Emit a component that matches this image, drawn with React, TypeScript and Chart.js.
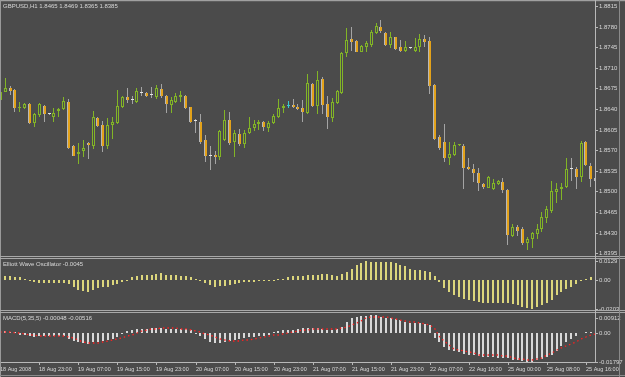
import React, { useEffect, useRef } from 'react';
import { Chart, registerables, LinearScale } from 'chart.js';

Chart.register(...registerables);

// Scales that snap pixel positions so 1px wicks / 3px bodies stay crisp (MT4 look)
class SnapHalfScale extends LinearScale {
  static id = 'snapHalf';
  static defaults = {};
  getPixelForValue(value: number) {
    return Math.round(super.getPixelForValue(value) - 0.5) + 0.5;
  }
  getLineWidthForValue() {
    return 0;
  }
}
class SnapIntScale extends LinearScale {
  static id = 'snapInt';
  static defaults = {};
  getPixelForValue(value: number) {
    return Math.round(super.getPixelForValue(value));
  }
  getLineWidthForValue() {
    return 0;
  }
}
Chart.register(SnapHalfScale as any, SnapIntScale as any);

// ---------------- DATA (GBPUSD H1, 18 Aug 2008 15:00 -> 25 Aug 2008) ----------------
const OPEN = [
  1.8655, 1.8669, 1.8676, 1.8672, 1.8642, 1.8642, 1.8649, 1.8616, 1.8630, 1.8645,
  1.8632, 1.8626, 1.8637, 1.8640, 1.8652, 1.8577, 1.8564, 1.8569, 1.8582, 1.8577,
  1.8625, 1.8613, 1.8577, 1.8613, 1.8616, 1.8643, 1.8660, 1.8655, 1.8652, 1.8667,
  1.8667, 1.8664, 1.8660, 1.8674, 1.8662, 1.8647, 1.8652, 1.8660, 1.8662, 1.8643,
  1.8620, 1.8618, 1.8587, 1.8560, 1.8562, 1.8558, 1.8587, 1.8621, 1.8584, 1.8598,
  1.8581, 1.8599, 1.8608, 1.8615, 1.8618, 1.8608, 1.8616, 1.8626, 1.8642, 1.8645,
  1.8647, 1.8643, 1.8642, 1.8633, 1.8683, 1.8645, 1.8691, 1.8649, 1.8625, 1.8650,
  1.8667, 1.8735, 1.8759, 1.8756, 1.8737, 1.8745, 1.8749, 1.8769, 1.8779, 1.8769,
  1.8749, 1.8762, 1.8745, 1.8739, 1.8744, 1.8739, 1.8745, 1.8759, 1.8756, 1.8681,
  1.8592, 1.8584, 1.8557, 1.8562, 1.8578, 1.8577, 1.8542, 1.8538, 1.8531, 1.8513,
  1.8506, 1.8504, 1.8513, 1.8516, 1.8502, 1.8424, 1.8440, 1.8436, 1.8412, 1.8419,
  1.8428, 1.8436, 1.8455, 1.8467, 1.8499, 1.8504, 1.8508, 1.8538, 1.8538, 1.8525,
  1.8584, 1.8543, 1.8523,
];
const HIGH = [
  1.8672, 1.8693, 1.8679, 1.8674, 1.8652, 1.8650, 1.8650, 1.8633, 1.8650, 1.8647,
  1.8633, 1.8642, 1.8641, 1.8660, 1.8657, 1.8579, 1.8582, 1.8587, 1.8584, 1.8637,
  1.8626, 1.8620, 1.8625, 1.8626, 1.8672, 1.8662, 1.8676, 1.8662, 1.8676, 1.8677,
  1.8668, 1.8677, 1.8681, 1.8683, 1.8663, 1.8660, 1.8667, 1.8671, 1.8664, 1.8644,
  1.8623, 1.8632, 1.8596, 1.8577, 1.8569, 1.8604, 1.8638, 1.8635, 1.8604, 1.8606,
  1.8604, 1.8626, 1.8621, 1.8621, 1.8620, 1.8620, 1.8632, 1.8657, 1.8649, 1.8654,
  1.8657, 1.8649, 1.8655, 1.8700, 1.8684, 1.8705, 1.8694, 1.8662, 1.8659, 1.8672,
  1.8737, 1.8778, 1.8779, 1.8757, 1.8748, 1.8756, 1.8774, 1.8786, 1.8791, 1.8771,
  1.8771, 1.8763, 1.8757, 1.8756, 1.8745, 1.8761, 1.8767, 1.8766, 1.8762, 1.8682,
  1.8596, 1.8615, 1.8584, 1.8584, 1.8580, 1.8581, 1.8557, 1.8547, 1.8540, 1.8514,
  1.8526, 1.8521, 1.8519, 1.8523, 1.8504, 1.8445, 1.8443, 1.8440, 1.8423, 1.8431,
  1.8445, 1.8465, 1.8475, 1.8518, 1.8514, 1.8514, 1.8557, 1.8557, 1.8542, 1.8586,
  1.8586, 1.8548, 1.8525,
];
const LOW = [
  1.8654, 1.8668, 1.8664, 1.8635, 1.8635, 1.8640, 1.8615, 1.8609, 1.8626, 1.8618,
  1.8630, 1.8618, 1.8626, 1.8638, 1.8572, 1.8560, 1.8547, 1.8558, 1.8555, 1.8572,
  1.8609, 1.8567, 1.8572, 1.8589, 1.8615, 1.8642, 1.8650, 1.8649, 1.8651, 1.8662,
  1.8661, 1.8659, 1.8657, 1.8659, 1.8633, 1.8633, 1.8650, 1.8652, 1.8640, 1.8616,
  1.8599, 1.8581, 1.8550, 1.8536, 1.8547, 1.8553, 1.8586, 1.8579, 1.8558, 1.8577,
  1.8574, 1.8598, 1.8603, 1.8604, 1.8603, 1.8601, 1.8615, 1.8625, 1.8633, 1.8642,
  1.8642, 1.8638, 1.8618, 1.8632, 1.8643, 1.8632, 1.8632, 1.8606, 1.8618, 1.8649,
  1.8666, 1.8728, 1.8739, 1.8736, 1.8736, 1.8737, 1.8745, 1.8767, 1.8769, 1.8747,
  1.8744, 1.8740, 1.8737, 1.8737, 1.8742, 1.8737, 1.8737, 1.8745, 1.8666, 1.8587,
  1.8570, 1.8550, 1.8545, 1.8560, 1.8577, 1.8504, 1.8536, 1.8516, 1.8501, 1.8504,
  1.8505, 1.8502, 1.8511, 1.8497, 1.8409, 1.8423, 1.8424, 1.8409, 1.8400, 1.8404,
  1.8419, 1.8431, 1.8446, 1.8463, 1.8480, 1.8485, 1.8506, 1.8518, 1.8504, 1.8516,
  1.8543, 1.8508, 1.8515,
];
const CLOSE = [
  1.8669, 1.8676, 1.8671, 1.8642, 1.8643, 1.8649, 1.8616, 1.8632, 1.8649, 1.8632,
  1.8632, 1.8633, 1.8640, 1.8654, 1.8574, 1.8560, 1.8567, 1.8574, 1.8579, 1.8626,
  1.8611, 1.8577, 1.8613, 1.8618, 1.8645, 1.8660, 1.8655, 1.8655, 1.8671, 1.8667,
  1.8662, 1.8664, 1.8676, 1.8662, 1.8649, 1.8655, 1.8662, 1.8664, 1.8642, 1.8618,
  1.8620, 1.8584, 1.8560, 1.8560, 1.8558, 1.8603, 1.8621, 1.8582, 1.8599, 1.8581,
  1.8599, 1.8608, 1.8615, 1.8618, 1.8609, 1.8616, 1.8628, 1.8642, 1.8645, 1.8645,
  1.8643, 1.8640, 1.8635, 1.8684, 1.8645, 1.8689, 1.8647, 1.8626, 1.8652, 1.8671,
  1.8735, 1.8757, 1.8754, 1.8737, 1.8747, 1.8752, 1.8771, 1.8781, 1.8773, 1.8749,
  1.8762, 1.8742, 1.8739, 1.8745, 1.8744, 1.8745, 1.8759, 1.8754, 1.8679, 1.8589,
  1.8574, 1.8557, 1.8564, 1.8579, 1.8579, 1.8540, 1.8538, 1.8531, 1.8514, 1.8507,
  1.8525, 1.8514, 1.8518, 1.8502, 1.8426, 1.8440, 1.8433, 1.8412, 1.8419, 1.8429,
  1.8436, 1.8457, 1.8470, 1.8501, 1.8504, 1.8508, 1.8538, 1.8538, 1.8525, 1.8582,
  1.8545, 1.8521, 1.8518,
];
const HIGHLIGHT_BARS = [59];

const EWO = [
  0.0028, 0.0028, 0.0028, 0.0021, 0.0016, 0.0005, -0.0007, -0.0018, -0.0023, -0.0023,
  -0.0023, -0.0023, -0.0023, -0.0025, -0.0030, -0.0053, -0.0069, -0.0076, -0.0083, -0.0069,
  -0.0060, -0.0053, -0.0048, -0.0037, -0.0030, -0.0018, -0.0007, 0.0016, 0.0023, 0.0030,
  0.0035, 0.0035, 0.0039, 0.0044, 0.0035, 0.0035, 0.0030, 0.0028, 0.0025, 0.0016,
  0.0005, -0.0007, -0.0023, -0.0037, -0.0048, -0.0046, -0.0042, -0.0037, -0.0030, -0.0023,
  -0.0018, -0.0018, -0.0014, -0.0012, -0.0012, -0.0012, -0.0007, 0.0002, 0.0005, 0.0016,
  0.0023, 0.0025, 0.0028, 0.0030, 0.0030, 0.0032, 0.0037, 0.0037, 0.0032, 0.0025,
  0.0037, 0.0050, 0.0075, 0.0099, 0.0117, 0.0129, 0.0124, 0.0119, 0.0119, 0.0119,
  0.0119, 0.0112, 0.0099, 0.0092, 0.0075, 0.0067, 0.0067, 0.0062, 0.0055, 0.0025,
  -0.0017, -0.0055, -0.0087, -0.0109, -0.0120, -0.0131, -0.0138, -0.0146, -0.0153, -0.0159,
  -0.0159, -0.0159, -0.0159, -0.0164, -0.0164, -0.0168, -0.0175, -0.0186, -0.0197, -0.0203,
  -0.0190, -0.0175, -0.0159, -0.0138, -0.0109, -0.0087, -0.0066, -0.0050, -0.0028, -0.0011,
  0.0007, 0.0017, 0.0025,
];

const MACD_MAIN = [
  0.0010, 0.0010, 0.0006, 0.0004, -0.0016, -0.0016, -0.0024, -0.0030, -0.0024, -0.0024,
  -0.0024, -0.0024, -0.0024, -0.0024, -0.0040, -0.0051, -0.0061, -0.0067, -0.0071, -0.0061,
  -0.0055, -0.0051, -0.0044, -0.0040, -0.0030, -0.0010, 0.0010, 0.0016, 0.0020, 0.0024,
  0.0024, 0.0026, 0.0030, 0.0030, 0.0024, 0.0024, 0.0024, 0.0020, 0.0020, 0.0014,
  -0.0006, -0.0024, -0.0040, -0.0061, -0.0067, -0.0065, -0.0057, -0.0051, -0.0044, -0.0040,
  -0.0036, -0.0030, -0.0026, -0.0024, -0.0020, -0.0016, 0.0004, 0.0010, 0.0014, 0.0016,
  0.0016, 0.0020, 0.0030, 0.0026, 0.0026, 0.0026, 0.0020, 0.0016, 0.0016, 0.0020,
  0.0032, 0.0067, 0.0087, 0.0097, 0.0101, 0.0101, 0.0107, 0.0107, 0.0097, 0.0091,
  0.0087, 0.0081, 0.0077, 0.0067, 0.0061, 0.0061, 0.0057, 0.0053, 0.0046, -0.0034,
  -0.0061, -0.0089, -0.0105, -0.0115, -0.0121, -0.0129, -0.0135, -0.0141, -0.0145, -0.0150,
  -0.0150, -0.0150, -0.0156, -0.0156, -0.0156, -0.0166, -0.0170, -0.0176, -0.0180, -0.0178,
  -0.0170, -0.0162, -0.0150, -0.0135, -0.0115, -0.0085, -0.0061, -0.0040, -0.0020, -0.0004,
  0.0006, 0.0006, 0.0006,
];
const MACD_SIGNAL = [
  0.0004, 0.0003, 0.0002, 0.0000, -0.0004, -0.0008, -0.0012, -0.0016, -0.0020, -0.0022,
  -0.0024, -0.0024, -0.0024, -0.0024, -0.0028, -0.0034, -0.0044, -0.0055, -0.0062, -0.0063,
  -0.0062, -0.0059, -0.0054, -0.0048, -0.0042, -0.0034, -0.0024, -0.0012, 0.0000, 0.0008,
  0.0016, 0.0020, 0.0024, 0.0026, 0.0027, 0.0027, 0.0026, 0.0024, 0.0022, 0.0018,
  0.0012, 0.0004, -0.0006, -0.0018, -0.0030, -0.0040, -0.0048, -0.0052, -0.0053, -0.0051,
  -0.0048, -0.0043, -0.0038, -0.0033, -0.0028, -0.0024, -0.0018, -0.0012, -0.0006, 0.0000,
  0.0006, 0.0010, 0.0014, 0.0018, 0.0020, 0.0020, 0.0020, 0.0020, 0.0021, 0.0022,
  0.0026, 0.0036, 0.0048, 0.0060, 0.0074, 0.0087, 0.0093, 0.0097, 0.0097, 0.0093,
  0.0090, 0.0081, 0.0077, 0.0073, 0.0067, 0.0063, 0.0057, 0.0053, 0.0048, 0.0020,
  -0.0024, -0.0050, -0.0075, -0.0099, -0.0109, -0.0115, -0.0119, -0.0125, -0.0135, -0.0141,
  -0.0141, -0.0141, -0.0141, -0.0143, -0.0145, -0.0155, -0.0160, -0.0162, -0.0166, -0.0170,
  -0.0165, -0.0155, -0.0137, -0.0125, -0.0107, -0.0093, -0.0083, -0.0069, -0.0055, -0.0040,
  -0.0028, -0.0014, -0.0010,
];

const PRICE_TICKS = [1.8395, 1.843, 1.8465, 1.85, 1.8535, 1.857, 1.8605, 1.864, 1.8675, 1.871, 1.8745, 1.878, 1.8815];
const EWO_TICKS = [-0.0203, 0, 0.0129];
const EWO_TICK_LABELS = ['-0.0203', '0.00', '0.0129'];
const MACD_TICKS = [-0.01797, 0, 0.00912];
const MACD_TICK_LABELS = ['-0.01797', '0.00', '0.00912'];

const TIME_TICK_BARS = [0, 8, 16, 24, 32, 40, 48, 56, 64, 72, 80, 88, 96, 104, 112, 120];
const TIME_TICK_LABELS = [
  '18 Aug 2008', '18 Aug 23:00', '19 Aug 07:00', '19 Aug 15:00', '19 Aug 23:00',
  '20 Aug 07:00', '20 Aug 15:00', '20 Aug 23:00', '21 Aug 07:00', '21 Aug 15:00',
  '21 Aug 23:00', '22 Aug 07:00', '22 Aug 16:00', '25 Aug 00:00', '25 Aug 08:00', '25 Aug 16:00',
];

const MAIN_TITLE = 'GBPUSD,H1 1.8465 1.8469 1.8365 1.8385';
const EWO_TITLE = 'Elliott Wave Oscillator -0.0045';
const MACD_TITLE = 'MACD(5,35,5) -0.00048 -0.00516';

// ---------------- STYLE ----------------
const BG = '#4b4b4b';
const BULL = '#82b526';
const BEAR_FILL = '#e3a21a';
const BEAR_EDGE = '#b8b8b8';
const BEAR_WICK = '#a4a4a4';
const DOJI = '#e4e4e4';
const HILITE = '#38c8d0';
const EWO_COLOR = '#dcd67c';
const MACD_COLOR = '#d8d8d8';
const SIGNAL_COLOR = '#ff2020';
const AXIS = '#b8b8b8';
const TEXT = '#d8d8d8';
const FONT = '"Liberation Sans", Arial, sans-serif';

const X_MIN = 0.143;
const X_MAX = 121.865;

function rightAxis(min: number, max: number, ticks: number[], labels: (v: number, i: number) => string) {
  return {
    type: 'snapInt',
    position: 'right',
    min,
    max,
    offset: false,
    bounds: 'data',
    grace: 0,
    beginAtZero: false,
    afterBuildTicks: (s: any) => {
      s.ticks = ticks.map((v) => ({ value: v }));
    },
    afterFit: (s: any) => {
      s.width = 30;
      s.paddingTop = 0;
      s.paddingBottom = 0;
    },
    ticks: {
      autoSkip: false,
      color: TEXT,
      padding: 1,
      font: { family: FONT, size: 6 },
      callback: (v: any, i: number) => labels(Number(v), i),
    },
    grid: { display: true, offset: false, drawOnChartArea: false, drawTicks: true, tickLength: 3, color: AXIS, lineWidth: 1 },
    border: { display: true, color: AXIS, width: 1 },
  };
}

function xAxis(type: string, visible: boolean) {
  return {
    type,
    position: 'bottom',
    display: visible,
    min: X_MIN,
    max: X_MAX,
    offset: false,
    bounds: 'data',
    grace: 0,
    afterBuildTicks: (s: any) => {
      s.ticks = TIME_TICK_BARS.map((v) => ({ value: v }));
    },
    afterFit: (s: any) => {
      s.height = visible ? 15 : 0;
      s.paddingLeft = 0;
      s.paddingRight = 0;
    },
    ticks: {
      autoSkip: false,
      maxRotation: 0,
      minRotation: 0,
      align: 'start',
      padding: 1,
      color: TEXT,
      font: { family: FONT, size: 5.5 },
      callback: (_v: any, i: number) => TIME_TICK_LABELS[i],
    },
    grid: { display: true, offset: false, drawOnChartArea: false, drawTicks: true, tickLength: 3, color: AXIS },
    border: { display: true, color: AXIS, width: 1 },
  };
}

const common = {
  responsive: false,
  maintainAspectRatio: false,
  animation: false,
  devicePixelRatio: 1,
  events: [],
  plugins: { legend: { display: false }, tooltip: { enabled: false }, title: { display: false } },
};

export default function App() {
  const mainRef = useRef<HTMLCanvasElement>(null);
  const ewoRef = useRef<HTMLCanvasElement>(null);
  const macdRef = useRef<HTMLCanvasElement>(null);

  useEffect(() => {
    const charts: Chart[] = [];

    const kind = (i: number) => {
      if (HIGHLIGHT_BARS.includes(i)) return 'hi';
      if (CLOSE[i] > OPEN[i]) return 'bull';
      if (CLOSE[i] < OPEN[i]) return 'bear';
      return 'doji';
    };
    const wickColors = OPEN.map((_, i) => {
      const k = kind(i);
      return k === 'bull' ? BULL : k === 'hi' ? HILITE : BEAR_WICK;
    });
    const bodyFill = OPEN.map((_, i) => {
      const k = kind(i);
      return k === 'bull' ? BG : k === 'bear' ? BEAR_FILL : k === 'hi' ? HILITE : DOJI;
    });
    const bodyEdge = OPEN.map((_, i) => {
      const k = kind(i);
      return k === 'bull' ? BULL : k === 'bear' ? BEAR_EDGE : k === 'hi' ? HILITE : DOJI;
    });
    const bodyBorder = OPEN.map((_, i) =>
      kind(i) === 'bear' ? { left: 1, right: 0, top: 0, bottom: 0 } : 1
    );

    if (mainRef.current) {
      charts.push(
        new Chart(mainRef.current, {
          type: 'bar',
          data: {
            datasets: [
              {
                label: 'wick',
                data: OPEN.map((_, i) => ({ x: i, y: [LOW[i], HIGH[i]] })),
                backgroundColor: wickColors,
                borderWidth: 0,
                barThickness: 1,
                grouped: false,
                inflateAmount: 0,
                clip: 0,
                order: 2,
              } as any,
              {
                label: 'body',
                data: OPEN.map((o, i) => ({ x: i, y: [o, CLOSE[i]] })),
                backgroundColor: bodyFill,
                borderColor: bodyEdge,
                borderWidth: bodyBorder,
                borderSkipped: false,
                barThickness: 3,
                minBarLength: 1,
                grouped: false,
                inflateAmount: 0,
                clip: 0,
                order: 1,
              } as any,
            ],
          },
          options: {
            ...common,
            layout: { padding: { left: 1, top: 3, right: 0, bottom: 1 } },
            scales: {
              x: xAxis('snapHalf', false),
              y: rightAxis(1.8392, 1.882, PRICE_TICKS, (v) => v.toFixed(4)),
            },
          } as any,
        })
      );
    }

    if (ewoRef.current) {
      charts.push(
        new Chart(ewoRef.current, {
          type: 'bar',
          data: {
            datasets: [
              {
                label: 'EWO',
                data: EWO.map((v, i) => ({ x: i, y: v })),
                backgroundColor: EWO_COLOR,
                borderWidth: 0,
                barThickness: 2,
                grouped: false,
                inflateAmount: 0,
                clip: 0,
              } as any,
            ],
          },
          options: {
            ...common,
            layout: { padding: { left: 1, top: 2, right: 0, bottom: 1 } },
            scales: {
              x: xAxis('snapInt', false),
              y: rightAxis(-0.0203, 0.0129, EWO_TICKS, (_v, i) => EWO_TICK_LABELS[i]),
            },
          } as any,
        })
      );
    }

    if (macdRef.current) {
      charts.push(
        new Chart(macdRef.current, {
          type: 'bar',
          data: {
            datasets: [
              {
                type: 'line',
                label: 'Signal',
                data: MACD_SIGNAL.map((v, i) => ({ x: i, y: v })),
                borderColor: SIGNAL_COLOR,
                borderWidth: 1.3,
                borderDash: [1.5, 3],
                pointRadius: 0,
                tension: 0,
                fill: false,
                clip: 0,
                order: 0,
              } as any,
              {
                type: 'bar',
                label: 'MACD',
                data: MACD_MAIN.map((v, i) => ({ x: i, y: v })),
                backgroundColor: MACD_COLOR,
                borderWidth: 0,
                barThickness: 2,
                grouped: false,
                inflateAmount: 0,
                clip: 0,
                order: 1,
              } as any,
            ],
          },
          options: {
            ...common,
            layout: { padding: { left: 1, top: 2, right: 0, bottom: 0 } },
            scales: {
              x: xAxis('snapInt', true),
              y: rightAxis(-0.0181, 0.0108, MACD_TICKS, (_v, i) => MACD_TICK_LABELS[i]),
            },
          } as any,
        })
      );
    }

    return () => {
      charts.forEach((c) => c.destroy());
    };
  }, []);

  const line = (style: React.CSSProperties) => (
    <div style={{ position: 'absolute', background: '#a8a8a8', ...style }} />
  );
  const textStyle: React.CSSProperties = {
    position: 'absolute',
    left: 3,
    color: TEXT,
    font: `6px ${FONT}`,
    lineHeight: '7px',
    whiteSpace: 'nowrap',
  };

  return (
    <div
      style={{
        position: 'fixed',
        left: 0,
        top: 0,
        width: 625,
        height: 377,
        background: BG,
        overflow: 'hidden',
      }}
    >
      <canvas ref={mainRef} width={625} height={256} style={{ position: 'absolute', left: 0, top: 0, width: 625, height: 256 }} />
      <canvas ref={ewoRef} width={625} height={51} style={{ position: 'absolute', left: 0, top: 259, width: 625, height: 51 }} />
      <canvas ref={macdRef} width={625} height={64} style={{ position: 'absolute', left: 0, top: 313, width: 625, height: 64 }} />

      {line({ left: 0, top: 0, width: 625, height: 1, background: '#a0a0a0' })}
      {line({ left: 0, top: 1, width: 625, height: 1, background: '#5e5e5e' })}
      {line({ left: 0, top: 0, width: 1, height: 377, background: '#9a9a9a' })}
      {line({ left: 0, top: 256, width: 625, height: 1 })}
      {line({ left: 0, top: 258, width: 625, height: 1 })}
      {line({ left: 0, top: 310, width: 625, height: 1 })}
      {line({ left: 0, top: 312, width: 625, height: 1 })}
      {line({ left: 595, top: 0, width: 1, height: 363, background: AXIS })}
      {line({ left: 619, top: 0, width: 1, height: 377, background: '#8a8a8a' })}
      {line({ left: 0, top: 375, width: 625, height: 1, background: '#8a8a8a' })}

      <div style={{ ...textStyle, top: 3 }}>{MAIN_TITLE}</div>
      <div style={{ ...textStyle, top: 261 }}>{EWO_TITLE}</div>
      <div style={{ ...textStyle, top: 315 }}>{MACD_TITLE}</div>
    </div>
  );
}
